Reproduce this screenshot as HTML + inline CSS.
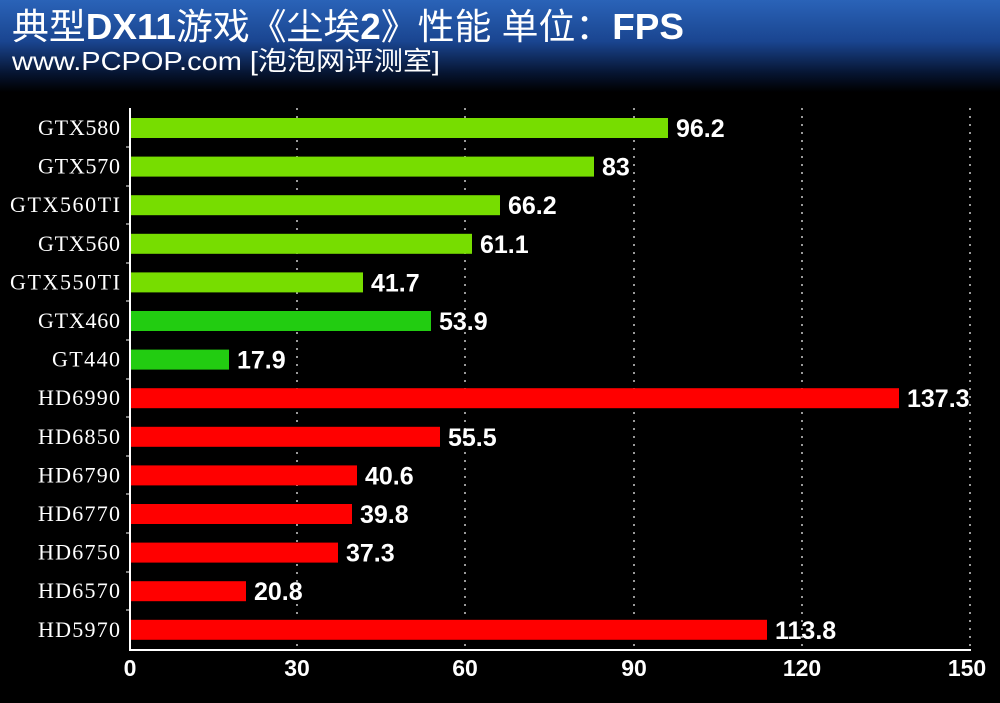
<!DOCTYPE html><html><head><meta charset="utf-8"><style>
body{margin:0;width:1000px;height:698px;background:#000;overflow:hidden}
</style></head><body>
<svg width="1000" height="698" xmlns="http://www.w3.org/2000/svg">
<defs><linearGradient id="g" x1="0" y1="0" x2="0" y2="1">
<stop offset="0" stop-color="#2a63b8"/><stop offset="0.45" stop-color="#1a4590"/><stop offset="0.8" stop-color="#061430"/><stop offset="1" stop-color="#000"/></linearGradient></defs>
<rect x="0" y="0" width="1000" height="92" fill="url(#g)"/>
<text x="12" y="39" fill="#fff" font-family="Liberation Sans,Noto Sans CJK SC,sans-serif" font-size="36" textLength="672" lengthAdjust="spacingAndGlyphs">典型<tspan font-weight="bold">DX11</tspan>游戏《尘埃<tspan font-weight="bold">2</tspan>》性能  单位：<tspan font-weight="bold">FPS</tspan></text>
<text x="12" y="70" fill="#fff" font-family="Liberation Sans,Noto Sans CJK SC,sans-serif" font-size="26" textLength="428" lengthAdjust="spacingAndGlyphs">www.PCPOP.com [泡泡网评测室]</text>
<g stroke="#ccc" stroke-width="1.5" stroke-dasharray="2,6">
<line x1="297" y1="108" x2="297" y2="650"/><line x1="465" y1="108" x2="465" y2="650"/><line x1="634" y1="108" x2="634" y2="650"/><line x1="802" y1="108" x2="802" y2="650"/><line x1="970" y1="108" x2="970" y2="650"/>
</g>
<line x1="130" y1="108" x2="130" y2="651" stroke="#fff" stroke-width="2"/>
<line x1="129" y1="650" x2="971" y2="650" stroke="#fff" stroke-width="2"/>
<g>
<rect x="131" y="118" width="537" height="20" fill="#77dd00"/>
<rect x="131" y="156.6" width="463" height="20" fill="#77dd00"/>
<rect x="131" y="195.2" width="369" height="20" fill="#77dd00"/>
<rect x="131" y="233.8" width="341" height="20" fill="#77dd00"/>
<rect x="131" y="272.4" width="232" height="20" fill="#77dd00"/>
<rect x="131" y="311" width="300" height="20" fill="#22cc11"/>
<rect x="131" y="349.6" width="98" height="20" fill="#22cc11"/>
<rect x="131" y="388.2" width="768" height="20" fill="#ff0000"/>
<rect x="131" y="426.8" width="309" height="20" fill="#ff0000"/>
<rect x="131" y="465.4" width="226" height="20" fill="#ff0000"/>
<rect x="131" y="504" width="221" height="20" fill="#ff0000"/>
<rect x="131" y="542.6" width="207" height="20" fill="#ff0000"/>
<rect x="131" y="581.2" width="115" height="20" fill="#ff0000"/>
<rect x="131" y="619.8" width="636" height="20" fill="#ff0000"/>
</g>
<g font-family="Liberation Serif,serif" font-size="22" fill="#fff" lengthAdjust="spacingAndGlyphs">
<text x="38" y="135" textLength="82">GTX580</text><text x="38" y="173.6" textLength="82">GTX570</text><text x="10" y="212.2" textLength="110">GTX560TI</text><text x="38" y="250.8" textLength="82">GTX560</text><text x="10" y="289.4" textLength="110">GTX550TI</text><text x="38" y="328" textLength="82">GTX460</text><text x="52" y="366.6" textLength="68">GT440</text><text x="38" y="405.2" textLength="82">HD6990</text><text x="38" y="443.8" textLength="82">HD6850</text><text x="38" y="482.4" textLength="82">HD6790</text><text x="38" y="521" textLength="82">HD6770</text><text x="38" y="559.6" textLength="82">HD6750</text><text x="38" y="598.2" textLength="82">HD6570</text><text x="38" y="636.8" textLength="82">HD5970</text>
</g>
<g stroke="#fff">
<line x1="126" y1="147" x2="130" y2="147"/><line x1="126" y1="186" x2="130" y2="186"/><line x1="126" y1="224" x2="130" y2="224"/><line x1="126" y1="263" x2="130" y2="263"/><line x1="126" y1="301" x2="130" y2="301"/><line x1="126" y1="340" x2="130" y2="340"/><line x1="126" y1="379" x2="130" y2="379"/><line x1="126" y1="417" x2="130" y2="417"/><line x1="126" y1="456" x2="130" y2="456"/><line x1="126" y1="494" x2="130" y2="494"/><line x1="126" y1="533" x2="130" y2="533"/><line x1="126" y1="572" x2="130" y2="572"/><line x1="126" y1="610" x2="130" y2="610"/>
</g>
<g font-family="Liberation Sans,sans-serif" font-weight="bold" font-size="25" fill="#fff">
<text x="676" y="137">96.2</text><text x="602" y="175.6">83</text><text x="508" y="214.2">66.2</text><text x="480" y="252.8">61.1</text><text x="371" y="291.4">41.7</text><text x="439" y="330">53.9</text><text x="237" y="368.6">17.9</text><text x="907" y="407.2">137.3</text><text x="448" y="445.8">55.5</text><text x="365" y="484.4">40.6</text><text x="360" y="523">39.8</text><text x="346" y="561.6">37.3</text><text x="254" y="600.2">20.8</text><text x="775" y="638.8">113.8</text>
</g>
<g font-family="Liberation Sans,sans-serif" font-weight="bold" font-size="23" fill="#fff" text-anchor="middle">
<text x="130" y="676">0</text><text x="297" y="676">30</text><text x="465" y="676">60</text><text x="634" y="676">90</text><text x="802" y="676">120</text><text x="967" y="676">150</text></g>
</svg></body></html>
